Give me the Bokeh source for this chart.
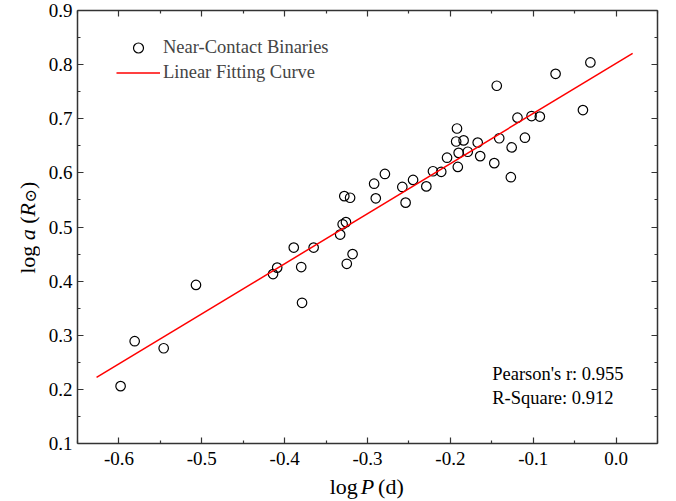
import math
from bokeh.plotting import figure
from bokeh.models import (FixedTicker, NumeralTickFormatter, LinearAxis, Label,
                          Legend, LegendItem, Range1d)
from bokeh.layouts import row, column
from bokeh.embed import file_html
from bokeh.resources import INLINE

# ---- data ----
log_P = [-0.598, -0.581, -0.546, -0.507, -0.414, -0.409, -0.389, -0.380, -0.379,
         -0.365, -0.333, -0.330, -0.326, -0.325, -0.318, -0.328, -0.321, -0.292,
         -0.290, -0.279, -0.258, -0.254, -0.245, -0.229, -0.221, -0.211, -0.204,
         -0.193, -0.192, -0.191, -0.190, -0.184, -0.179, -0.167, -0.164, -0.147,
         -0.144, -0.141, -0.126, -0.127, -0.119, -0.110, -0.102, -0.092, -0.073,
         -0.040, -0.031]
log_a = [0.206, 0.289, 0.276, 0.393, 0.413, 0.425, 0.462, 0.426, 0.360,
         0.462, 0.486, 0.505, 0.509, 0.432, 0.450, 0.557, 0.554, 0.580,
         0.553, 0.598, 0.574, 0.545, 0.587, 0.575, 0.603, 0.602, 0.628,
         0.658, 0.682, 0.611, 0.637, 0.660, 0.639, 0.656, 0.631, 0.618,
         0.761, 0.664, 0.647, 0.592, 0.702, 0.665, 0.705, 0.704, 0.783,
         0.716, 0.804]

fit_x = [-0.627, 0.020]
fit_slope = 0.9255
fit_intercept = 0.8023
pearson_r = 0.955
r_square = 0.912

x_ticks = [-0.6, -0.5, -0.4, -0.3, -0.2, -0.1, 0.0]
x_minor = [-0.65, -0.55, -0.45, -0.35, -0.25, -0.15, -0.05, 0.05]
y_ticks = [0.1, 0.2, 0.3, 0.4, 0.5, 0.6, 0.7, 0.8, 0.9]
y_minor = [0.15, 0.25, 0.35, 0.45, 0.55, 0.65, 0.75, 0.85]

fit_y = [fit_intercept + fit_slope * xv for xv in fit_x]

SERIF = "Liberation Serif"
AX_COLOR = "#333333"

MAIN_W, MAIN_H = 630, 473
p = figure(width=MAIN_W, height=MAIN_H,
           x_range=Range1d(-0.65, 0.05), y_range=Range1d(0.1, 0.9),
           output_backend="svg", toolbar_location=None,
           min_border_left=37, min_border_right=13, min_border_top=10,
           min_border_bottom=30, background_fill_color="white",
           border_fill_color="white")
p.xgrid.visible = False
p.ygrid.visible = False
p.outline_line_color = None


def style_axis(ax, ticks, minor, show_labels=True):
    ax.ticker = FixedTicker(ticks=ticks, minor_ticks=minor)
    ax.formatter = NumeralTickFormatter(format="0.0")
    ax.axis_line_color = AX_COLOR
    ax.axis_line_width = 1.5
    ax.major_tick_line_color = AX_COLOR
    ax.minor_tick_line_color = AX_COLOR
    ax.major_tick_line_width = 1.2
    ax.minor_tick_line_width = 1.2
    ax.major_tick_in = 6
    ax.major_tick_out = 0
    ax.minor_tick_in = 3
    ax.minor_tick_out = 0
    if show_labels:
        ax.major_label_text_font = SERIF
        ax.major_label_text_font_size = "19px"
        ax.major_label_text_color = "black"
    else:
        ax.major_label_overrides = {t: "" for t in ticks}
        ax.major_label_text_font_size = "0px"
        ax.major_label_standoff = 0


style_axis(p.xaxis[0], x_ticks, x_minor)
p.xaxis[0].major_label_standoff = 8
style_axis(p.yaxis[0], y_ticks, y_minor)
p.yaxis[0].major_label_standoff = 5

top_ax = LinearAxis()
style_axis(top_ax, x_ticks, x_minor, show_labels=False)
p.add_layout(top_ax, "above")
right_ax = LinearAxis()
style_axis(right_ax, y_ticks, y_minor, show_labels=False)
p.add_layout(right_ax, "right")

sc = p.scatter(log_P, log_a, marker="circle", size=9.5, fill_color=None,
               line_color="black", line_width=1.2)
ln = p.line(fit_x, fit_y, line_color="red", line_width=1.5)

legend = Legend(items=[LegendItem(label="Near-Contact Binaries", renderers=[sc]),
                       LegendItem(label="Linear Fitting Curve", renderers=[ln])],
                location=(39, 358), glyph_width=44, glyph_height=25,
                label_height=25, spacing=0, padding=0, margin=0,
                label_standoff=3, border_line_color=None,
                background_fill_alpha=0, label_text_font=SERIF,
                label_text_font_size="18.5px")
p.add_layout(legend)


def add_text(fig, text, x, y, dx=0, dy=0, size="22px", style="normal",
             angle=0.0, font=SERIF):
    fig.add_layout(Label(x=x, y=y, x_offset=dx, y_offset=dy, text=text,
                         text_font=font, text_font_size=size,
                         text_font_style=style, text_align="left",
                         text_baseline="middle", angle=angle,
                         text_color="black"))


# statistics (anchored at the frame's bottom-left corner)
add_text(p, f"Pearson's r: {pearson_r:.3f}", -0.65, 0.1, 414.7, 69.5, size="18.5px")
add_text(p, f"R-Square: {r_square:.3f}", -0.65, 0.1, 414.7, 45.5, size="18.5px")


def blank_fig(w, h):
    f = figure(width=w, height=h, x_range=Range1d(0, w), y_range=Range1d(0, h),
               output_backend="svg", toolbar_location=None,
               x_axis_location=None, y_axis_location=None,
               min_border=0, outline_line_color=None,
               background_fill_color="white", border_fill_color="white")
    f.xgrid.visible = False
    f.ygrid.visible = False
    return f


# x-axis label: log P (d)   (pixel positions inside the strip below the plot)
XLAB_H = 27
xlab = blank_fig(MAIN_W, XLAB_H)
add_text(xlab, "log", 274, 14)
add_text(xlab, "P", 307.6, 14, style="italic")
add_text(xlab, "(d)", 326.5, 14)

# y-axis label: log a (R_sun)   (strip left of the plot)
A = math.pi / 2
ylab = blank_fig(40, MAIN_H + XLAB_H)
add_text(ylab, "log", 27, 226.7, angle=A)
add_text(ylab, "a", 27, 260.3, style="italic", angle=A)
add_text(ylab, "(", 27, 276.8, angle=A)
add_text(ylab, "R", 27, 284.1, style="italic", angle=A)
add_text(ylab, "\u2299", 30, 298.0, size="16px", angle=A, font="DejaVu Serif")
add_text(ylab, ")", 27, 311.5, angle=A)

layout = row(ylab, column(p, xlab))

open("out.html", "w").write(file_html(layout, INLINE))
